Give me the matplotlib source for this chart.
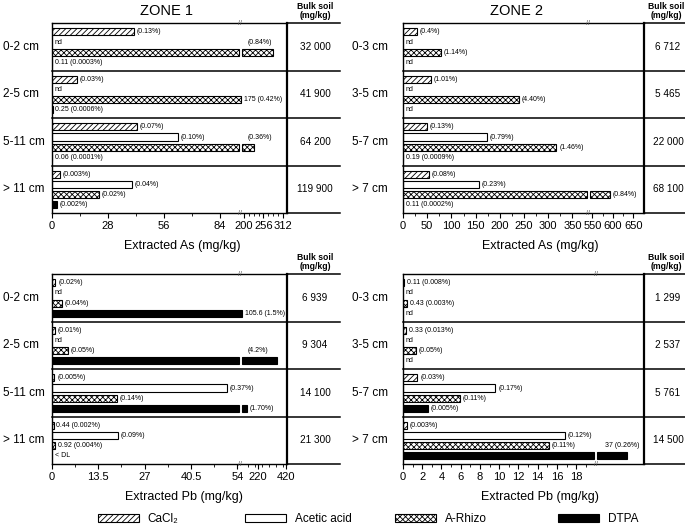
import numpy as np
import matplotlib
matplotlib.use("Agg")
import matplotlib.pyplot as plt
import matplotlib.transforms as mtransforms
from matplotlib.patches import Patch

plt.rcParams.update({
    "font.family": ["Liberation Sans", "DejaVu Sans"],
    "hatch.linewidth": 0.6,
    "axes.linewidth": 1.0,
})

W, H = 685, 529

EXTRACTANTS = ["CaCl₂", "Acetic acid", "A-Rhizo", "DTPA"]
DEPTH_Z1 = ["0-2 cm", "2-5 cm", "5-11 cm", "> 11 cm"]
DEPTH_Z2 = ["0-3 cm", "3-5 cm", "5-7 cm", "> 7 cm"]

# ---- Zone 1, As (rows: CaCl2, acetic, A-Rhizo, DTPA; cols: depths) ----
AS_Z1_BULK = ["32 000", "41 900", "64 200", "119 900"]
AS_Z1_VALUES = [
    [41, 12.5, 42.5, 4],
    [None, None, 63, 40],
    [283, 175, 229, 23.5],
    [0.11, 0.25, 0.06, 2.5],
]
AS_Z1_LABELS = [
    ["(0.13%)", "(0.03%)", "(0.07%)", "(0.003%)"],
    ["nd", "nd", "(0.10%)", "(0.04%)"],
    ["(0.84%)", "175 (0.42%)", "(0.36%)", "(0.02%)"],
    ["0.11 (0.0003%)", "0.25 (0.0006%)", "0.06 (0.0001%)", "(0.002%)"],
]
AS_Z1_ABOVE = [(2, 0), (2, 2)]
AS_Z1_TICKS = [0, 28, 56, 84, 200, 256, 312]

# ---- Zone 2, As ----
AS_Z2_BULK = ["6 712", "5 465", "22 000", "68 100"]
AS_Z2_VALUES = [
    [29, 58, 49, 53.5],
    [None, None, 173, 157],
    [78, 239, 317, 593],
    [None, None, 0.19, 0.11],
]
AS_Z2_LABELS = [
    ["(0.4%)", "(1.01%)", "(0.13%)", "(0.08%)"],
    ["nd", "nd", "(0.79%)", "(0.23%)"],
    ["(1.14%)", "(4.40%)", "(1.46%)", "(0.84%)"],
    ["nd", "nd", "0.19 (0.0009%)", "0.11 (0.0002%)"],
]
AS_Z2_ABOVE = []
AS_Z2_TICKS = [0, 50, 100, 150, 200, 250, 300, 350, 550, 600, 650]

# ---- Zone 1, Pb ----
PB_Z1_BULK = ["6 939", "9 304", "14 100", "21 300"]
PB_Z1_VALUES = [
    [1.0, 0.9, 0.7, 0.44],
    [None, None, 51, 19.2],
    [2.8, 4.65, 19, 0.92],
    [105.6, 360, 142, None],
]
PB_Z1_LABELS = [
    ["(0.02%)", "(0.01%)", "(0.005%)", "0.44 (0.002%)"],
    ["nd", "nd", "(0.37%)", "(0.09%)"],
    ["(0.04%)", "(0.05%)", "(0.14%)", "0.92 (0.004%)"],
    ["105.6 (1.5%)", "(4.2%)", "(1.70%)", "< DL"],
]
PB_Z1_ABOVE = [(3, 1)]
PB_Z1_TICKS = [0, 13.5, 27, 40.5, 54, 220, 420]

# ---- Zone 2, Pb ----
PB_Z2_BULK = ["1 299", "2 537", "5 761", "14 500"]
PB_Z2_VALUES = [
    [0.11, 0.33, 1.5, 0.4],
    [None, None, 9.6, 16.8],
    [0.43, 1.3, 5.9, 15.2],
    [None, None, 2.6, 37],
]
PB_Z2_LABELS = [
    ["0.11 (0.008%)", "0.33 (0.013%)", "(0.03%)", "(0.003%)"],
    ["nd", "nd", "(0.17%)", "(0.12%)"],
    ["0.43 (0.003%)", "(0.05%)", "(0.11%)", "(0.11%)"],
    ["nd", "nd", "(0.005%)", "37 (0.26%)"],
]
PB_Z2_ABOVE = [(3, 3)]
PB_Z2_TICKS = [0, 2, 4, 6, 8, 10, 12, 14, 16, 18]

STYLES = [
    dict(facecolor="white", hatch="//////"),
    dict(facecolor="white"),
    dict(facecolor="white", hatch="xxxxxx"),
    dict(facecolor="black"),
]
SLOT0, SLOT_STEP, BAR_H = 0.75, 0.85, 0.6
ANN = 5


def add_ax(fig, xl, xr, yt, yb):
    return fig.add_axes([xl / W, 1 - yb / H, (xr - xl) / W, (yb - yt) / H])


def panel(ax, kd, kp, values, labels, above, depths, bulk, ticks, minor,
          xlabel, line_end, bulk_x, depth_x, label_x, above_pad=4):
    fwd = lambda v: np.interp(v, kd, kp)
    inv = lambda p: np.interp(p, kp, kd)
    ax.set_xscale("function", functions=(fwd, inv))
    nrow = len(depths)
    ax.set_xlim(kd[0], kd[-1])
    ax.set_ylim(4 * nrow, 0)
    lo, hi = kd[1], kd[2]
    for j, (vals, labs) in enumerate(zip(values, labels)):
        for i, (v, lab) in enumerate(zip(vals, labs)):
            y = 4 * i + SLOT0 + SLOT_STEP * j
            kw = dict(height=BAR_H, edgecolor="black", lw=0.8, **STYLES[j])
            if v is not None:
                if v > hi:
                    ax.barh(y, lo, **kw)
                    ax.barh(y, v - hi, left=hi, **kw)
                else:
                    ax.barh(y, v, **kw)
            if (j, i) in above:
                ax.annotate(lab, (hi, y - SLOT_STEP), xytext=(above_pad, 0),
                            textcoords="offset points", va="center", fontsize=ANN)
            else:
                ax.annotate(lab, (v or 0, y), xytext=(2, 0),
                            textcoords="offset points", va="center", fontsize=ANN)

    ax.set_yticks([])
    ax.set_xticks(ticks, [f"{t:g}" for t in ticks])
    ax.set_xticks(minor, minor=True)
    ax.tick_params(axis="x", which="major", direction="out", length=3.5,
                   width=0.8, labelsize=8, pad=2)
    ax.tick_params(axis="x", which="minor", direction="out", length=2, width=0.6)
    ax.spines["right"].set_linewidth(1.6)

    tr = mtransforms.blended_transform_factory(ax.transAxes, ax.transData)
    for k in range(nrow + 1):
        x0 = 1 if k in (0, nrow) else 0
        ax.plot([x0, line_end], [4 * k, 4 * k], transform=tr, color="black",
                lw=1.1, clip_on=False)
    for i in range(nrow):
        ax.text(bulk_x, 4 * i + 2, bulk[i], transform=tr, ha="center",
                va="center", fontsize=7.2)
        ax.text(depth_x, 4 * i + 2, depths[i], transform=tr, ha="left",
                va="center", fontsize=8.5)

    # break marks on top and bottom lines
    mid = inv((kp[1] + kp[2]) / 2)
    trb = mtransforms.blended_transform_factory(ax.transData, ax.transAxes)
    for yy in (0, 1):
        ax.text(mid, yy, "//", transform=trb, ha="center", va="center",
                fontsize=5, color="#555555")

    ax.set_xlabel(xlabel, fontsize=9)
    ax.xaxis.set_label_coords(label_x, -0.14)


fig = plt.figure(figsize=(W / 100, H / 100), dpi=100)

L, R = (52, 287), (403, 644)
TOP, BOT = (23, 213), (274, 464)

ax1 = add_ax(fig, *L, *TOP)
panel(ax1, [0, 93.5, 195, 323], [52, 239, 242, 287], AS_Z1_VALUES, AS_Z1_LABELS,
      AS_Z1_ABOVE, DEPTH_Z1, AS_Z1_BULK, AS_Z1_TICKS,
      [14, 42, 70] + list(range(214, 312, 14)), "Extracted As (mg/kg)",
      (340 - 52) / 235, (315 - 52) / 235, (3 - 52) / 235, (182 - 52) / 235)

ax2 = add_ax(fig, *R, *TOP)
panel(ax2, [0, 380, 544, 676], [403, 587, 590, 644], AS_Z2_VALUES, AS_Z2_LABELS,
      AS_Z2_ABOVE, DEPTH_Z2, AS_Z2_BULK, AS_Z2_TICKS,
      list(range(25, 375, 50)) + [575, 625], "Extracted As (mg/kg)",
      (685 - 403) / 241, (668 - 403) / 241, (352 - 403) / 241, (540 - 403) / 241)

ax3 = add_ax(fig, *L, *BOT)
panel(ax3, [0, 54.5, 106, 430], [52, 239, 242, 287], PB_Z1_VALUES, PB_Z1_LABELS,
      PB_Z1_ABOVE, DEPTH_Z1, PB_Z1_BULK, PB_Z1_TICKS,
      [6.75, 20.25, 33.75, 47.25, 150, 200, 250, 300, 350, 400],
      "Extracted Pb (mg/kg)",
      (340 - 52) / 235, (315 - 52) / 235, (3 - 52) / 235, (184 - 52) / 235)

ax4 = add_ax(fig, *R, *BOT)
panel(ax4, [0, 19.85, 30, 41], [403, 594, 597, 644], PB_Z2_VALUES, PB_Z2_LABELS,
      PB_Z2_ABOVE, DEPTH_Z2, PB_Z2_BULK, PB_Z2_TICKS,
      list(range(1, 20, 2)), "Extracted Pb (mg/kg)",
      (685 - 403) / 241, (668 - 403) / 241, (352 - 403) / 241, (540 - 403) / 241,
      above_pad=6)

# titles and bulk soil headers
fig.text(166 / W, 1 - 11 / H, "ZONE 1", ha="center", va="center", fontsize=10.5)
fig.text(517 / W, 1 - 11 / H, "ZONE 2", ha="center", va="center", fontsize=10.5)
for x, y in [(315, 23), (666, 23), (315, 274), (666, 274)]:
    fig.text(x / W, 1 - (y - 3) / H, "Bulk soil\n(mg/kg)", ha="center", va="bottom",
             fontsize=6.2, fontweight="bold", linespacing=1.0)

# legend
for name, st, x in zip(EXTRACTANTS, STYLES, [98, 245, 395, 558]):
    h = Patch(edgecolor="black", lw=0.8, **st)
    fig.legend(handles=[h], labels=[name], loc="center left",
               bbox_to_anchor=(x / W, 1 - 519 / H), frameon=False, fontsize=8.5,
               handlelength=3.5, handleheight=0.75, handletextpad=0.7,
               borderpad=0, borderaxespad=0)

fig.savefig("out.png", dpi=100, facecolor="white")
